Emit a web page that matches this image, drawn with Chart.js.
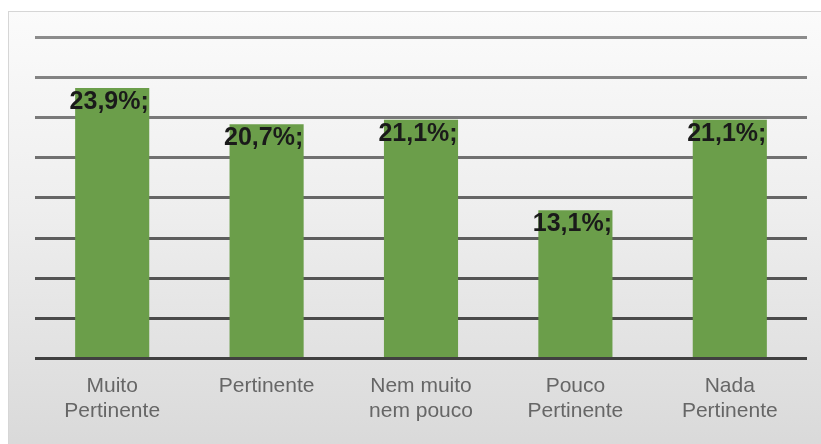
<!DOCTYPE html>
<html>
<head>
<meta charset="utf-8">
<script src="https://cdn.jsdelivr.net/npm/chart.js@4"></script>
<style>
    html, body { margin: 0; padding: 0; background: #fff; }
    #wrap { position: relative; width: 821px; height: 444px; overflow: hidden; }
    #box {
        position: absolute; left: 8px; top: 11px; width: 830px; height: 440px;
        border: 1px solid #d6d6d6;
        background: linear-gradient(to bottom, #fbfbfb 0%, #eeeeee 45%, #d9d9d9 100%);
    }
    canvas { position: absolute; left: 0; top: 0; }
</style>
</head>
<body>
<div id="wrap">
    <div id="box"></div>
    <canvas id="chart" width="821" height="444"></canvas>
</div>
<script>
// categorias e valores (%)
const categories = [
    ['Muito', 'Pertinente'],
    ['Pertinente'],
    ['Nem muito', 'nem pouco'],
    ['Pouco', 'Pertinente'],
    ['Nada', 'Pertinente']
];
const values = [23.9, 20.7, 21.1, 13.1, 21.1];

// escala do eixo y (sem rótulos visíveis)
const yMax = 28.4;
const yStep = 3.55;

const BAR_COLOR = '#6b9e4a';

// rótulos de dados no topo das barras
const barLabels = {
    id: 'barLabels',
    afterDatasetsDraw(chart) {
        const ctx = chart.ctx;
        const meta = chart.getDatasetMeta(0);
        ctx.save();
        ctx.font = 'bold 25px "Liberation Sans", Arial, sans-serif';
        ctx.fillStyle = '#1a1a1a';
        ctx.textAlign = 'center';
        ctx.textBaseline = 'middle';
        meta.data.forEach((bar, i) => {
            const text = values[i].toFixed(1).replace('.', ',') + '%;';
            ctx.fillText(text, bar.x - 3, bar.y + 14);
        });
        ctx.restore();
    }
};

// cor das linhas de grade: mais clara em cima, mais escura em baixo
function gridColor(context) {
    const v = context.tick ? context.tick.value : 0;
    const t = v / yMax;
    const c = Math.round(0x40 + (0x8c - 0x40) * t);
    return `rgb(${c}, ${c}, ${c})`;
}

new Chart(document.getElementById('chart'), {
    type: 'bar',
    data: {
        labels: categories,
        datasets: [{
            data: values,
            backgroundColor: BAR_COLOR,
            borderWidth: 0,
            categoryPercentage: 1,
            barPercentage: 0.48
        }]
    },
    options: {
        responsive: false,
        animation: false,
        layout: { padding: { left: 35, right: 14, top: 37, bottom: 13 } },
        plugins: {
            legend: { display: false },
            tooltip: { enabled: false }
        },
        scales: {
            x: {
                grid: { display: false },
                border: { display: false },
                ticks: {
                    color: '#666666',
                    padding: 7,
                    maxRotation: 0,
                    font: { family: '"Liberation Sans", Arial, sans-serif', size: 21 }
                }
            },
            y: {
                min: 0,
                max: yMax,
                border: { display: false },
                grid: { color: gridColor, lineWidth: 3, drawTicks: false },
                ticks: { display: false, stepSize: yStep }
            }
        }
    },
    plugins: [barLabels]
});
</script>
</body>
</html>
